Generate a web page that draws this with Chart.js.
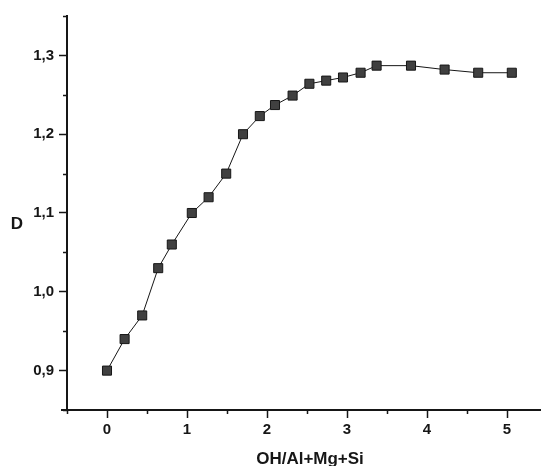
<!DOCTYPE html>
<html>
<head>
<meta charset="utf-8">
<script src="https://cdn.jsdelivr.net/npm/chart.js@4/dist/chart.umd.min.js"></script>
<style>
  html, body { margin: 0; padding: 0; background: #fff; }
  #wrap { width: 548px; height: 466px; }
</style>
</head>
<body>
<div id="wrap"><canvas id="c" width="548" height="466"></canvas></div>
<script>
// Measured curve: D against the OH/(Al+Mg+Si) ratio
const ratio   = [0, 0.22, 0.44, 0.64, 0.81, 1.06, 1.27, 1.49, 1.70, 1.91, 2.10,
                 2.32, 2.53, 2.74, 2.95, 3.17, 3.37, 3.80, 4.22, 4.64, 5.06];
const density = [0.900, 0.940, 0.970, 1.030, 1.060, 1.100, 1.120, 1.150, 1.200, 1.223, 1.237,
                 1.249, 1.264, 1.268, 1.272, 1.278, 1.287, 1.287, 1.282, 1.278, 1.278];
const xTitle = 'OH/Al+Mg+Si';
const yTitle = 'D';

const INK = '#161616';
const FONT = '"Liberation Sans", Arial, sans-serif';

const isMajorX = v => Math.abs(v - Math.round(v)) < 1e-6;
const isMajorY = v => Math.abs(v * 10 - Math.round(v * 10)) < 1e-6;

// Short minor ticks between the labelled ones, plus the two axis titles
const axisExtras = {
  id: 'axisExtras',
  afterDraw(chart) {
    const { ctx, scales: { x, y }, chartArea } = chart;
    ctx.save();
    ctx.strokeStyle = INK;
    ctx.lineWidth = 1.5;
    ctx.beginPath();
    x.ticks.forEach(t => {
      if (isMajorX(t.value)) return;
      const px = Math.round(x.getPixelForValue(t.value)) + 0.5;
      ctx.moveTo(px, chartArea.bottom);
      ctx.lineTo(px, chartArea.bottom + 4);
    });
    y.ticks.forEach(t => {
      if (isMajorY(t.value)) return;
      const py = Math.round(y.getPixelForValue(t.value)) + 0.5;
      ctx.moveTo(chartArea.left, py);
      ctx.lineTo(chartArea.left - 4, py);
    });
    ctx.stroke();

    // the horizontal axis runs a little past the vertical one
    ctx.lineWidth = 2;
    ctx.beginPath();
    ctx.moveTo(chartArea.left - 6, chartArea.bottom);
    ctx.lineTo(chartArea.left, chartArea.bottom);
    ctx.stroke();

    ctx.fillStyle = INK;
    ctx.textBaseline = 'middle';
    ctx.textAlign = 'center';
    ctx.font = 'bold 17px ' + FONT;
    ctx.fillText(yTitle, 17, 224);
    ctx.fillText(xTitle, 310, 459);
    ctx.restore();
  }
};

new Chart(document.getElementById('c'), {
  type: 'line',
  data: {
    datasets: [{
      data: ratio.map((r, i) => ({ x: r, y: density[i] })),
      borderColor: INK,
      borderWidth: 1,
      pointStyle: 'rect',
      pointRadius: 6.4,
      pointBackgroundColor: '#404040',
      pointBorderColor: INK,
      pointBorderWidth: 1,
      tension: 0,
      fill: false
    }]
  },
  options: {
    responsive: false,
    animation: false,
    devicePixelRatio: 1,
    layout: { padding: { top: 16, right: 0, bottom: 0, left: 0 } },
    plugins: { legend: { display: false }, tooltip: { enabled: false } },
    scales: {
      x: {
        type: 'linear',
        min: -0.5,
        max: 5.42,
        afterFit: s => { s.height = 56; },
        afterBuildTicks: s => {
          s.ticks = s.ticks.filter(t => Math.abs(t.value * 2 - Math.round(t.value * 2)) < 1e-6);
        },
        ticks: {
          stepSize: 0.5,
          includeBounds: false,
          autoSkip: false,
          maxRotation: 0,
          padding: 3,
          color: INK,
          font: { family: FONT, size: 15, weight: 'bold' },
          callback: v => isMajorX(v) ? String(Math.round(v)) : ''
        },
        grid: {
          display: true,
          drawOnChartArea: false,
          drawTicks: true,
          tickLength: 8,
          tickWidth: 1.5,
          tickColor: c => (c.tick && isMajorX(c.tick.value)) ? INK : 'rgba(0,0,0,0)'
        },
        border: { display: true, color: INK, width: 2 }
      },
      y: {
        type: 'linear',
        min: 0.85,
        max: 1.35,
        afterFit: s => { s.width = 67; },
        afterBuildTicks: s => {
          s.ticks = s.ticks.filter(t => Math.abs(t.value * 20 - Math.round(t.value * 20)) < 1e-6);
        },
        ticks: {
          stepSize: 0.05,
          autoSkip: false,
          padding: 5,
          color: INK,
          font: { family: FONT, size: 15, weight: 'bold' },
          callback: v => isMajorY(v) ? v.toFixed(1).replace('.', ',') : ''
        },
        grid: {
          display: true,
          drawOnChartArea: false,
          drawTicks: true,
          tickLength: 8,
          tickWidth: 1.5,
          tickColor: c => (c.tick && isMajorY(c.tick.value)) ? INK : 'rgba(0,0,0,0)'
        },
        border: { display: true, color: INK, width: 2 }
      }
    }
  },
  plugins: [axisExtras]
});
</script>
</body>
</html>
